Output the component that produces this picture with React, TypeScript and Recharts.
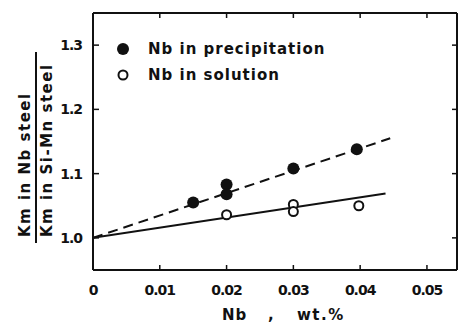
import React from 'react'
import { ComposedChart, Line, Scatter, XAxis, YAxis } from 'recharts'

// x: Nb content (wt.%), y: Km(Nb steel) / Km(Si-Mn steel)
const xTicks = [0, 0.01, 0.02, 0.03, 0.04, 0.05]
const yTicks = [1.0, 1.1, 1.2, 1.3]

const precipNb = [0.015, 0.02, 0.02, 0.03, 0.0395]
const precipKm = [1.055, 1.083, 1.068, 1.108, 1.138]

const solutionNb = [0.02, 0.03, 0.03, 0.0398]
const solutionKm = [1.036, 1.052, 1.041, 1.05]

// fitted lines at both ends
const dashedFitNb = [0, 0.0445]
const dashedFitKm = [1.0, 1.155]
const solidFitNb = [0, 0.0438]
const solidFitKm = [1.0, 1.069]

const toPoints = (xs: number[], ys: number[]) => xs.map((x, i) => ({ x, y: ys[i] }))

const FONT = '"DejaVu Sans", sans-serif'
const INK = '#111'

const fmtX = (v: number) => (v === 0 ? '0' : v.toFixed(2))

const BottomTick = ({ x, y, payload }: any) => (
  <g>
    <line x1={x} y1={y - 20} x2={x} y2={y - 25} stroke={INK} strokeWidth={1.5} />
    <text x={x} y={y} dy="0.35em" textAnchor="middle" fontFamily={FONT} fontWeight={700}
      fontSize={14} letterSpacing={-1} fill={INK}>
      {fmtX(payload.value)}
    </text>
  </g>
)

const LeftTick = ({ x, y, payload }: any) => (
  <g>
    <line x1={x + 11} y1={y} x2={x + 17} y2={y} stroke={INK} strokeWidth={1.5} />
    <text x={x} y={y} dy="0.35em" textAnchor="end" fontFamily={FONT} fontWeight={700}
      fontSize={14} letterSpacing={-1} fill={INK}>
      {payload.value.toFixed(1)}
    </text>
  </g>
)

const TopTick = ({ x, y }: any) => (
  <line x1={x} y1={y} x2={x} y2={y + 5} stroke={INK} strokeWidth={1.5} />
)

const RightTick = ({ x, y }: any) => (
  <line x1={x} y1={y} x2={x - 5} y2={y} stroke={INK} strokeWidth={1.5} />
)

const FilledDot = ({ cx, cy }: any) => <circle cx={cx} cy={cy} r={6} fill={INK} />
const OpenDot = ({ cx, cy }: any) => (
  <circle cx={cx} cy={cy} r={4.5} fill="#fff" stroke={INK} strokeWidth={2} />
)

export default function App() {
  const textStyle = { fontFamily: FONT, fontWeight: 700, fill: INK } as const
  return (
    <div style={{ position: 'absolute', left: 0, top: 0, width: 464, height: 327, background: '#fff' }}>
      <ComposedChart width={464} height={327} margin={{ top: 0, right: 0, bottom: 0, left: 0 }}>
        <XAxis xAxisId="bottom" dataKey="x" type="number" domain={[0, 0.0545]} ticks={xTicks}
          allowDataOverflow height={57} tickSize={0} tickMargin={20} tickLine={false}
          tick={<BottomTick />} axisLine={{ stroke: INK, strokeWidth: 2 }} />
        <XAxis xAxisId="top" orientation="top" dataKey="x" type="number" domain={[0, 0.0545]}
          ticks={xTicks.slice(1)} allowDataOverflow height={13} tickSize={0} tickMargin={0}
          tickLine={false} tick={<TopTick />} axisLine={{ stroke: INK, strokeWidth: 2 }} />
        <YAxis yAxisId="left" dataKey="y" type="number" domain={[0.95, 1.35]} ticks={yTicks}
          allowDataOverflow width={93} tickSize={0} tickMargin={11} tickLine={false}
          tick={<LeftTick />} axisLine={{ stroke: INK, strokeWidth: 2 }} />
        <YAxis yAxisId="right" orientation="right" dataKey="y" type="number" domain={[0.95, 1.35]}
          ticks={yTicks} allowDataOverflow width={7} tickSize={0} tickMargin={0} tickLine={false}
          tick={<RightTick />} axisLine={{ stroke: INK, strokeWidth: 2 }} />

        <Line xAxisId="bottom" yAxisId="left" data={toPoints(dashedFitNb, dashedFitKm)} dataKey="y"
          type="linear" stroke={INK} strokeWidth={2} strokeDasharray="10 6" dot={false}
          activeDot={false} isAnimationActive={false} />
        <Line xAxisId="bottom" yAxisId="left" data={toPoints(solidFitNb, solidFitKm)} dataKey="y"
          type="linear" stroke={INK} strokeWidth={2} dot={false} activeDot={false}
          isAnimationActive={false} />
        <Scatter xAxisId="bottom" yAxisId="left" data={toPoints(precipNb, precipKm)} dataKey="y"
          shape={<FilledDot />} isAnimationActive={false} />
        <Scatter xAxisId="bottom" yAxisId="left" data={toPoints(solutionNb, solutionKm)} dataKey="y"
          shape={<OpenDot />} isAnimationActive={false} />
      </ComposedChart>

      <svg width={464} height={327} style={{ position: 'absolute', left: 0, top: 0, pointerEvents: 'none' }}>
        {/* legend */}
        <circle cx={123} cy={49} r={6} fill={INK} />
        <text x={148} y={49} dy="0.35em" fontSize={15} letterSpacing={1} style={textStyle}>
          Nb in precipitation
        </text>
        <circle cx={123} cy={75} r={4.5} fill="#fff" stroke={INK} strokeWidth={2} />
        <text x={148} y={75} dy="0.35em" fontSize={15} letterSpacing={1} style={textStyle}>
          Nb in solution
        </text>

        {/* y title as a fraction */}
        <text transform="translate(25,237) rotate(-90)" dy="0.35em" fontSize={15} letterSpacing={1.5}
          style={textStyle}>
          Km in Nb steel
        </text>
        <line x1={36} y1={52} x2={36} y2={243} stroke={INK} strokeWidth={2} />
        <text transform="translate(47,237) rotate(-90)" dy="0.35em" fontSize={15} letterSpacing={1.5}
          style={textStyle}>
          Km in Si-Mn steel
        </text>

        {/* x title */}
        <text x={222} y={315} dy="0.35em" fontSize={15} letterSpacing={1} style={textStyle}>Nb</text>
        <text x={268} y={315} dy="0.35em" fontSize={15} style={textStyle}>,</text>
        <text x={297} y={315} dy="0.35em" fontSize={15} letterSpacing={1.5} style={textStyle}>wt.%</text>
      </svg>
    </div>
  )
}
